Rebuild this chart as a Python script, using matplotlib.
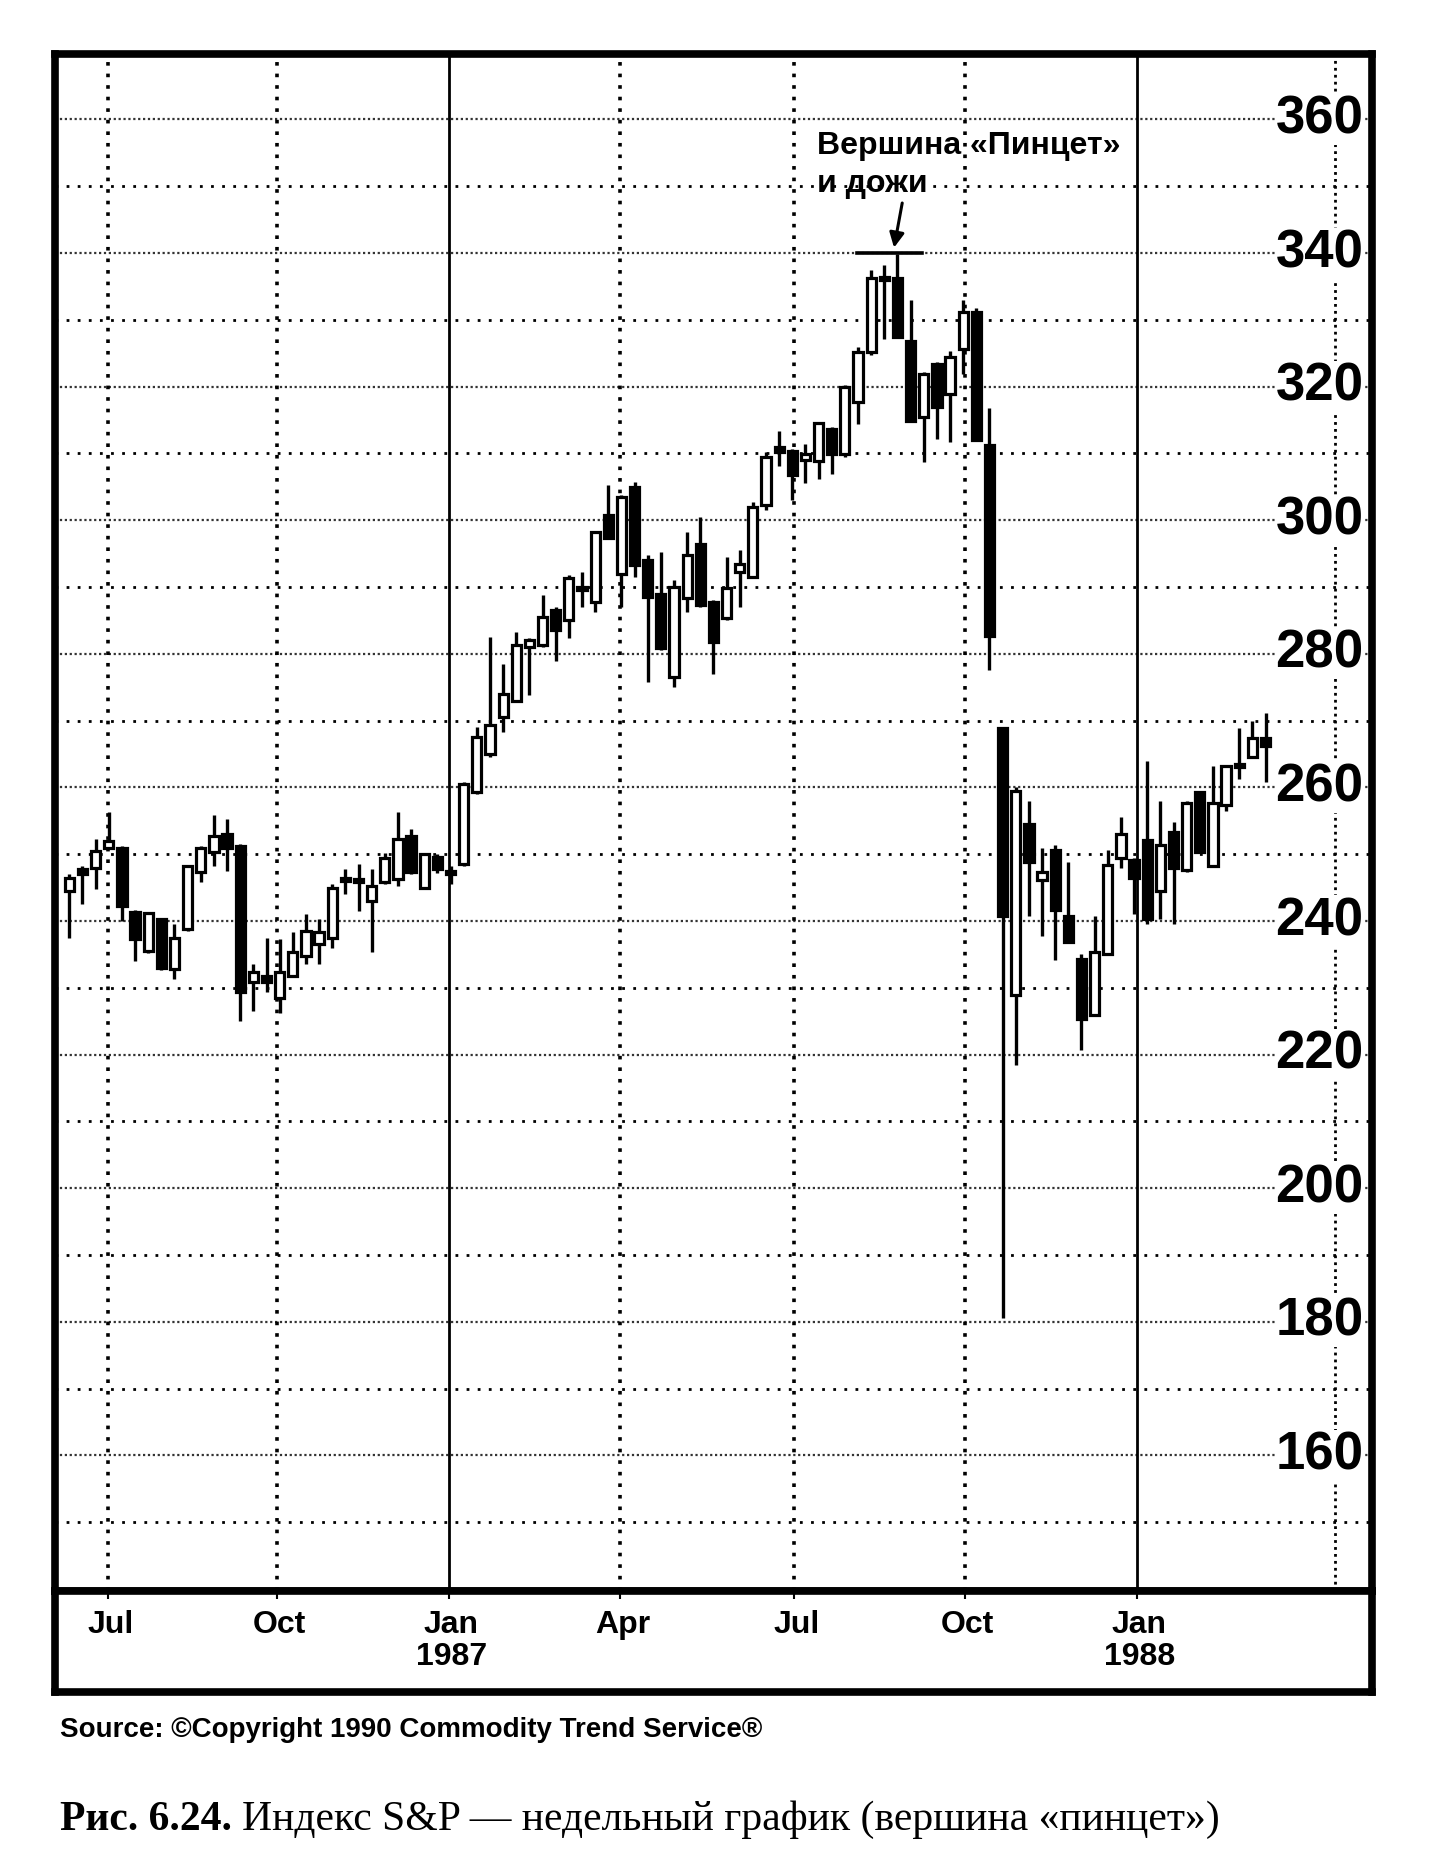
import matplotlib
matplotlib.use("Agg")
import matplotlib.pyplot as plt
from matplotlib.patches import Rectangle

# S&P 500 weekly candles, Jul 1986 - Feb 1988
opens = [244.5, 247.8, 248.0, 251.0, 251.0, 241.4, 235.5, 240.3, 232.8, 238.8,
         247.3, 250.3, 253.0, 251.2, 230.8, 231.8, 228.5, 231.8, 234.8, 236.5,
         237.5, 246.0, 246.0, 243.0, 245.8, 246.3, 252.8, 245.0, 249.6, 247.2,
         248.5, 259.3, 265.0, 270.5, 273.0, 281.0, 281.3, 286.5, 285.0, 289.5,
         287.8, 300.8, 292.0, 305.0, 294.0, 289.0, 276.5, 288.3, 296.5, 287.8,
         285.3, 292.3, 291.5, 302.3, 311.0, 310.4, 309.0, 308.9, 313.7, 309.9,
         317.7, 325.2, 335.9, 336.2, 326.9, 315.4, 323.4, 318.9, 325.7, 331.2,
         311.3, 268.9, 228.9, 254.6, 246.2, 250.6, 240.8, 234.3, 225.9, 235.1,
         249.4, 249.2, 252.1, 244.5, 253.4, 247.7, 259.3, 248.2, 257.3, 263.0,
         264.5, 267.4]
highs = [247.0, 248.2, 252.3, 256.3, 251.3, 241.6, 241.4, 240.5, 239.5, 248.3,
         251.3, 255.8, 255.3, 251.6, 233.5, 237.5, 237.3, 238.3, 241.0, 240.3,
         245.5, 247.8, 248.5, 247.8, 250.2, 256.3, 253.8, 250.2, 250.0, 248.3,
         260.8, 269.0, 282.5, 278.5, 283.3, 282.3, 288.8, 287.0, 291.8, 292.3,
         298.3, 305.3, 303.8, 305.8, 294.8, 295.3, 291.0, 298.3, 300.5, 288.0,
         294.5, 295.5, 302.8, 310.2, 313.4, 310.7, 311.4, 314.7, 313.9, 320.2,
         325.9, 337.4, 338.2, 339.9, 332.9, 322.2, 323.7, 325.4, 332.9, 331.7,
         316.8, 268.9, 260.0, 258.0, 250.9, 251.4, 248.9, 235.1, 240.8, 250.6,
         255.6, 249.5, 264.0, 258.0, 254.8, 258.0, 259.5, 263.2, 263.2, 268.9,
         269.9, 271.1]
lows = [237.5, 242.5, 244.8, 250.8, 240.0, 234.0, 235.2, 232.7, 231.3, 238.5,
        245.8, 248.3, 247.5, 225.0, 226.5, 229.3, 226.3, 231.6, 233.5, 233.5,
        236.0, 244.0, 241.5, 235.3, 245.5, 245.3, 247.0, 244.8, 247.2, 245.5,
        248.3, 259.0, 264.5, 268.3, 272.8, 273.8, 281.0, 279.0, 282.3, 287.0,
        286.3, 297.3, 287.0, 291.5, 275.8, 280.5, 275.0, 286.3, 287.0, 277.0,
        285.0, 287.0, 291.3, 301.5, 308.1, 303.0, 305.6, 306.2, 306.9, 309.4,
        314.4, 324.7, 327.2, 327.4, 314.9, 308.7, 312.2, 311.7, 321.9, 312.0,
        277.6, 180.5, 218.5, 240.8, 237.8, 234.1, 236.8, 220.7, 225.9, 235.1,
        247.9, 241.0, 239.5, 240.3, 239.5, 247.4, 250.4, 248.2, 256.5, 261.3,
        264.5, 260.8]
closes = [246.5, 247.0, 250.5, 252.0, 242.3, 237.3, 241.2, 233.0, 237.5, 248.2,
          251.0, 252.8, 251.0, 229.3, 232.3, 230.8, 232.3, 235.3, 238.5, 238.3,
          245.0, 246.1, 245.8, 245.3, 249.5, 252.3, 247.3, 250.0, 247.8, 247.0,
          260.5, 267.5, 269.3, 274.0, 281.3, 282.0, 285.5, 283.5, 291.3, 289.8,
          298.3, 297.3, 303.5, 293.3, 288.5, 280.8, 290.0, 294.8, 287.3, 281.8,
          289.8, 293.5, 302.0, 309.4, 310.2, 306.7, 309.9, 314.6, 309.9, 319.9,
          325.2, 336.2, 336.1, 327.4, 314.9, 321.9, 316.9, 324.4, 331.2, 312.0,
          282.6, 240.8, 259.5, 248.9, 247.4, 241.7, 236.8, 225.4, 235.3, 248.4,
          253.1, 246.4, 240.3, 251.4, 247.9, 257.6, 250.4, 257.6, 263.2, 263.4,
          267.4, 266.2]

price_labels = [160, 180, 200, 220, 240, 260, 280, 300, 320, 340, 360]
grid_prices = list(range(150, 361, 10))
month_labels = ["Jul", "Oct", "Jan", "Apr", "Jul", "Oct", "Jan"]
year_labels = ["", "", "1987", "", "", "", "1988"]
month_pos = [2.95, 15.8, 28.85, 41.9, 55.1, 68.1, 81.2]
extra_vline = 96.3

W, H = 1444, 1871
fig = plt.figure(figsize=(W / 100, H / 100), dpi=100)
fig.patch.set_facecolor("white")

# pixel box of the price panel and of the date strip
left, right = 55, 1372
top, split, bottom = 54, 1591, 1692
ax = fig.add_axes([left / W, 1 - split / H, (right - left) / W, (split - top) / H])
ax2 = fig.add_axes([left / W, 1 - bottom / H, (right - left) / W, (bottom - split) / H])

narrow = ["Liberation Sans Narrow", "Liberation Sans"]

xmin, xmax = -1.09, 99.1
ax.set_xlim(xmin, xmax)
ax.set_ylim(139.7, 369.8)
ax.set_xticks([])
ax.set_yticks([])
for s in ax.spines.values():
    s.set_linewidth(5.5)

# horizontal grid
for p in grid_prices:
    if p % 20 == 0:
        ax.axhline(p, color="#333333", lw=1.6, ls=(0, (1, 1.2)), zorder=1)
    else:
        ax.axhline(p, color="black", lw=2.0, ls=(0, (1, 3)), zorder=1)

# vertical grid, January lines solid
for pos, m in zip(month_pos, month_labels):
    if m == "Jan":
        ax.axvline(pos, color="black", lw=2.0, zorder=1)
    else:
        ax.axvline(pos, color="black", lw=2.6, ls=(0, (1, 2.2)), zorder=1)
ax.axvline(extra_vline, color="black", lw=2.0, ls=(0, (1, 1.5)), zorder=1)

# candles
bw = 0.7
for i in range(len(opens)):
    o, h, l, c = opens[i], highs[i], lows[i], closes[i]
    ax.vlines(i, l, h, color="black", lw=2.4, zorder=3)
    lo = min(o, c)
    hgt = max(abs(c - o), 0.5)
    face = "white" if c >= o else "black"
    ax.add_patch(Rectangle((i - bw / 2, lo), bw, hgt, facecolor=face,
                           edgecolor="black", lw=2.3, zorder=4))

# price labels on the right, inside the panel
for p in price_labels:
    ax.text(95.1, p, str(p), ha="center", va="center", fontsize=38,
            fontweight="bold", family=narrow,
            zorder=5, bbox=dict(facecolor="white", edgecolor="none", pad=0.5))

# tweezers top annotation
ax.plot([59.9, 64.9], [340, 340], color="black", lw=2.6, zorder=5)
ax.annotate("", xy=(62.7, 340.4), xytext=(63.4, 347.9),
            arrowprops=dict(arrowstyle="-|>", color="black", lw=2.2,
                            mutation_scale=22), zorder=5)
ax.text(56.9, 356.0, "Вершина «Пинцет»", fontsize=23, fontweight="bold",
        family="Liberation Sans", va="center", ha="left", zorder=5)
ax.text(56.9, 350.4, "и дожи", fontsize=23, fontweight="bold",
        family="Liberation Sans", va="center", ha="left", zorder=5)

# date strip
ax2.set_xlim(xmin, xmax)
ax2.set_ylim(0, 1)
ax2.set_yticks([])
ax2.set_xticks(month_pos)
ax2.tick_params(axis="x", direction="in", top=True, bottom=False,
                labelbottom=False, length=6, width=1.5)
for s in ax2.spines.values():
    s.set_linewidth(5.5)
for pos, m, y in zip(month_pos, month_labels, year_labels):
    ax2.text(pos + 0.2, 0.66, m, ha="center", va="center", fontsize=23,
             fontweight="bold", family=narrow)
    if y:
        ax2.text(pos + 0.2, 0.35, y, ha="center", va="center", fontsize=23,
                 fontweight="bold", family=narrow)

fig.text(60 / W, 1 - 1730 / H, "Source: ©Copyright 1990 Commodity Trend Service®",
         fontsize=20, fontweight="bold", family="Liberation Sans", va="center")

t1 = fig.text(60 / W, 1 - 1820 / H, "Рис. 6.24.", fontsize=30, fontweight="bold",
              family="Liberation Serif", va="center")
r = fig.canvas.get_renderer()
bb = t1.get_window_extent(r)
fig.text((bb.x1 + 10) / W, 1 - 1820 / H,
         "Индекс S&P — недельный график (вершина «пинцет»)",
         fontsize=30, family="Liberation Serif", va="center")

fig.savefig("out.png", dpi=100)
